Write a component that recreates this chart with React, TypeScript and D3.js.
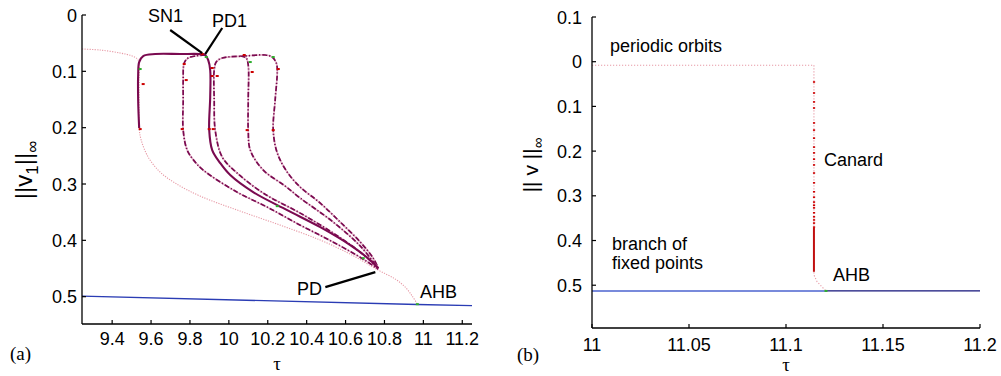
import React from "react";
import * as d3 from "d3";

type P = [number, number];

const W = 1001;
const H = 376;

// ---------- panel (a) data : [tau, ||v1||inf] ----------
const mainBranch: P[] = [
  [9.2457, 0.0604], [9.3383, 0.0622], [9.4412, 0.0675], [9.5029, 0.0728], [9.5337, 0.0799],
  [9.5389, 0.1155], [9.5389, 0.151], [9.5389, 0.2007], [9.5492, 0.222], [9.5852, 0.2522],
  [9.6469, 0.2789], [9.7241, 0.2984], [9.8527, 0.3215], [10.058, 0.3481], [10.264, 0.373],
  [10.47, 0.3996], [10.624, 0.4245], [10.768, 0.4529], [10.856, 0.4689], [10.907, 0.4831],
  [10.943, 0.4991], [10.969, 0.5133],
];

const branchSolid: P[] = [
  [9.5389, 0.2007], [9.5337, 0.151], [9.5337, 0.1066], [9.5389, 0.0835], [9.5595, 0.0728],
  [9.6213, 0.0693], [9.7499, 0.0693], [9.8527, 0.0693], [9.8784, 0.071], [9.8939, 0.0799],
  [9.9041, 0.0977], [9.9041, 0.1456], [9.899, 0.2043], [9.9144, 0.2398], [9.9556, 0.2629],
  [10.007, 0.2842], [10.125, 0.3144], [10.3, 0.3464], [10.47, 0.3766], [10.624, 0.4085],
  [10.727, 0.4352], [10.768, 0.4494],
];

const branchB: P[] = [
  [9.8784, 0.071], [9.827, 0.0728], [9.791, 0.0764], [9.7704, 0.0853], [9.7652, 0.1155],
  [9.7652, 0.151], [9.7652, 0.2043], [9.7858, 0.2398], [9.827, 0.2611], [9.8681, 0.2753],
  [10.0327, 0.3126], [10.197, 0.341], [10.367, 0.373], [10.537, 0.4032], [10.691, 0.4334],
  [10.768, 0.4512],
];

const branchC: P[] = [
  [10.768, 0.4494], [10.676, 0.421], [10.537, 0.3872], [10.367, 0.3517], [10.177, 0.3162],
  [10.043, 0.2806], [9.9659, 0.2522], [9.9298, 0.2043], [9.9247, 0.151], [9.9247, 0.0977],
  [9.935, 0.0835], [9.9659, 0.0764], [10.084, 0.0728], [10.187, 0.071], [10.223, 0.0746],
  [10.244, 0.0853], [10.249, 0.0977], [10.238, 0.151], [10.228, 0.2043], [10.249, 0.2451],
  [10.3, 0.2789], [10.367, 0.3055], [10.47, 0.3339], [10.573, 0.3677], [10.676, 0.4032],
  [10.742, 0.4316], [10.768, 0.4494],
];

const branchD: P[] = [
  [10.058, 0.0728], [10.089, 0.0764], [10.0996, 0.0888], [10.0996, 0.151], [10.0996, 0.2043],
  [10.11, 0.2398], [10.177, 0.2753], [10.29, 0.3037], [10.367, 0.325], [10.537, 0.3677],
  [10.676, 0.4103], [10.763, 0.4476],
];

const redMarksA: P[] = [
  [9.5595, 0.1226], [9.544, 0.2025], [9.7704, 0.087], [9.7807, 0.1155], [9.7601, 0.2025],
  [9.863, 0.0693], [9.9144, 0.0941], [9.9144, 0.1083], [9.9401, 0.1083], [9.899, 0.2025],
  [9.9196, 0.2025], [10.079, 0.071], [10.12, 0.1012], [10.094, 0.2043], [10.254, 0.0959],
  [10.228, 0.2043],
];
const greenMarksA: P[] = [
  [9.544, 0.0959], [9.8836, 0.0746], [10.11, 0.0835], [10.228, 0.0746], [10.249, 0.3393],
  [10.691, 0.4316], [10.969, 0.5133],
];

const fixedA: P[] = [[9.245, 0.4991], [10.969, 0.5139], [11.25, 0.516]];

const arrowSN1: P[] = [[9.6984, 0.0266], [9.863, 0.0675]];
const arrowPD1: P[] = [[9.9659, 0.0231], [9.8784, 0.0693]];
const arrowPD: P[] = [[10.496, 0.4831], [10.753, 0.4565]];

const xTicksA = [9.4, 9.6, 9.8, 10, 10.2, 10.4, 10.6, 10.8, 11, 11.2];
const yTicksA = [0, 0.1, 0.2, 0.3, 0.4, 0.5];

// ---------- panel (b) data ----------
const canardTau = 11.1144;
const ahbTauB = 11.1206;
const periodicB: P[] = [
  [11.0, 0.008], [11.1144, 0.008], [11.1144, 0.477], [11.116, 0.492], [11.1206, 0.513],
];
const canardMarkV = [
  0.0454, 0.07, 0.09, 0.1036, 0.137, 0.153, 0.171, 0.191, 0.204, 0.218, 0.231, 0.249, 0.271,
  0.291, 0.303, 0.314, 0.321, 0.327, 0.338, 0.347, 0.354, 0.361, 0.37,
];
const canardDense: [number, number] = [0.372, 0.47];
const fixedBstable: P[] = [[11.0, 0.5128], [11.1206, 0.5128]];
const fixedBunstable: P[] = [[11.1206, 0.5128], [11.2, 0.5128]];

const xTicksB = [11, 11.05, 11.1, 11.15, 11.2];
const yTicksB = [-0.1, 0, 0.1, 0.2, 0.3, 0.4, 0.5];

const FONT = "'Liberation Sans', Arial, Helvetica, sans-serif";
const SERIF = "'Liberation Serif', 'Times New Roman', serif";

const PURPLE = "#7a0a50";
const PINK = "#e79aa6";
const RED = "#cc0000";
const GREEN = "#2fae2f";

export default function App() {
  const xA = d3.scaleLinear().domain([9.245, 11.25]).range([82, 472]);
  const yA = d3.scaleLinear().domain([0, 0.5485]).range([15, 324]);
  const xB = d3.scaleLinear().domain([11, 11.2]).range([592, 980]);
  const yB = d3.scaleLinear().domain([-0.1, 0.5957]).range([17, 328]);

  const smoothA = d3
    .line<P>()
    .x((d) => xA(d[0]))
    .y((d) => yA(d[1]))
    .curve(d3.curveCatmullRom.alpha(0.5));
  const linA = d3
    .line<P>()
    .x((d) => xA(d[0]))
    .y((d) => yA(d[1]));
  const linB = d3
    .line<P>()
    .x((d) => xB(d[0]))
    .y((d) => yB(d[1]));

  const fmtA = (d: number) => String(Math.round(d * 10) / 10);
  const fmtB = (d: number) => String(Math.round(d * 100) / 100);
  const fmtY = (d: number) => String(Math.abs(Math.round(d * 10) / 10));

  const axA = { x0: xA.range()[0], x1: xA.range()[1], y0: yA.range()[0], y1: yA.range()[1] };
  const axB = { x0: xB.range()[0], x1: xB.range()[1], y0: yB.range()[0], y1: yB.range()[1] };

  const dashDot = "5,2,1.2,2";

  return (
    <div style={{ position: "absolute", left: 0, top: 0 }}>
      <svg width={W} height={H} style={{ display: "block", background: "#fff" }}>
        {/* ================= PANEL (a) ================= */}
        <g>
          <path d={linA(fixedA) || ""} fill="none" stroke="#2a3cb4" strokeWidth={1.3} />
          <path d={smoothA(mainBranch) || ""} fill="none" stroke={PINK} strokeWidth={1.1} strokeDasharray="1.2,1.3" />
          {[branchB, branchC, branchD].map((b, i) => (
            <g key={i}>
              <path d={smoothA(b) || ""} fill="none" stroke="#e3b3c8" strokeWidth={1.6} />
              <path d={smoothA(b) || ""} fill="none" stroke={PURPLE} strokeWidth={1.7} strokeDasharray={dashDot} />
            </g>
          ))}
          <path d={smoothA(branchSolid) || ""} fill="none" stroke={PURPLE} strokeWidth={2.1} />
          {redMarksA.map((d, i) => (
            <rect key={"r" + i} x={xA(d[0]) - 1.5} y={yA(d[1]) - 1} width={3} height={2} fill={RED} />
          ))}
          {greenMarksA.map((d, i) => (
            <rect key={"g" + i} x={xA(d[0]) - 1.5} y={yA(d[1]) - 1} width={3} height={2} fill={GREEN} />
          ))}
          {[arrowSN1, arrowPD1, arrowPD].map((a, i) => (
            <path key={"a" + i} d={linA(a) || ""} stroke="#000" strokeWidth={2.2} fill="none" />
          ))}
          <line x1={axA.x0} y1={axA.y0} x2={axA.x0} y2={axA.y1} stroke="#000" strokeWidth={1.3} />
          <line x1={axA.x0} y1={axA.y1} x2={axA.x1} y2={axA.y1} stroke="#000" strokeWidth={1.3} />
          {xTicksA.map((t) => (
            <g key={"xa" + t}>
              <line x1={xA(t)} x2={xA(t)} y1={axA.y1} y2={axA.y1 - 4} stroke="#000" strokeWidth={1.2} />
              <text x={xA(t)} y={345} textAnchor="middle" fontFamily={FONT} fontSize={18}>
                {fmtA(t)}
              </text>
            </g>
          ))}
          {yTicksA.map((t) => (
            <g key={"ya" + t}>
              <line x1={axA.x0} x2={axA.x0 + 4} y1={yA(t)} y2={yA(t)} stroke="#000" strokeWidth={1.2} />
              <text x={77} y={yA(t) + 6.5} textAnchor="end" fontFamily={FONT} fontSize={18}>
                {fmtA(t)}
              </text>
            </g>
          ))}
          <text x={148} y={22} fontFamily={FONT} fontSize={18}>SN1</text>
          <text x={212} y={27} fontFamily={FONT} fontSize={18}>PD1</text>
          <text x={297} y={295} fontFamily={FONT} fontSize={18}>PD</text>
          <text x={420} y={298} fontFamily={FONT} fontSize={18}>AHB</text>
          <text x={277} y={370} textAnchor="middle" fontFamily={SERIF} fontSize={19}>τ</text>
          <text x={10} y={360} fontFamily={SERIF} fontSize={19}>(a)</text>
          <text transform="translate(32,170) rotate(-90)" textAnchor="middle" fontFamily={FONT} fontSize={24}>
            ||v<tspan fontSize={17} dy={6}>1</tspan>
            <tspan dy={-6}>||</tspan>
            <tspan fontSize={17} dy={6}>∞</tspan>
          </text>
        </g>

        {/* ================= PANEL (b) ================= */}
        <g>
          <path d={linB(fixedBstable) || ""} fill="none" stroke="#4b63cf" strokeWidth={1.4} />
          <path d={linB(fixedBunstable) || ""} fill="none" stroke="#12127a" strokeWidth={1.2} />
          <path d={linB(periodicB) || ""} fill="none" stroke={PINK} strokeWidth={1.1} strokeDasharray="1.2,1.8" />
          <line
            x1={xB(canardTau)} x2={xB(canardTau)}
            y1={yB(canardDense[0])} y2={yB(canardDense[1])}
            stroke="#c01010" strokeWidth={2}
          />
          {canardMarkV.map((v, i) => (
            <rect key={"cm" + i} x={xB(canardTau) - 1} y={yB(v) - 0.8} width={2.2} height={1.6} fill={RED} />
          ))}
          <rect x={xB(ahbTauB) - 1.5} y={yB(0.5128) - 1} width={3} height={2} fill={GREEN} />
          <line x1={axB.x0} y1={axB.y0} x2={axB.x0} y2={axB.y1} stroke="#000" strokeWidth={1.3} />
          <line x1={axB.x0} y1={axB.y1} x2={axB.x1} y2={axB.y1} stroke="#000" strokeWidth={1.3} />
          {xTicksB.map((t) => (
            <g key={"xb" + t}>
              <line x1={xB(t)} x2={xB(t)} y1={axB.y1} y2={axB.y1 - 4} stroke="#000" strokeWidth={1.2} />
              <text x={xB(t)} y={351} textAnchor="middle" fontFamily={FONT} fontSize={18}>
                {fmtB(t)}
              </text>
            </g>
          ))}
          {yTicksB.map((t) => (
            <g key={"yb" + t}>
              <line x1={axB.x0} x2={axB.x0 + 4} y1={yB(t)} y2={yB(t)} stroke="#000" strokeWidth={1.2} />
              <text x={582} y={yB(t) + 6.5} textAnchor="end" fontFamily={FONT} fontSize={18}>
                {fmtY(t)}
              </text>
            </g>
          ))}
          <text x={610} y={52} fontFamily={FONT} fontSize={18}>periodic orbits</text>
          <text x={824} y={166} fontFamily={FONT} fontSize={18}>Canard</text>
          <text x={612} y={250} fontFamily={FONT} fontSize={18}>branch of</text>
          <text x={612} y={269} fontFamily={FONT} fontSize={18}>fixed points</text>
          <text x={833} y={281} fontFamily={FONT} fontSize={18}>AHB</text>
          <text x={786} y={371} textAnchor="middle" fontFamily={SERIF} fontSize={19}>τ</text>
          <text x={517} y={361} fontFamily={SERIF} fontSize={19}>(b)</text>
          <text transform="translate(538,165) rotate(-90)" textAnchor="middle" fontFamily={FONT} fontSize={21}>
            || v ||<tspan fontSize={15} dy={5}>∞</tspan>
          </text>
        </g>
      </svg>
    </div>
  );
}
